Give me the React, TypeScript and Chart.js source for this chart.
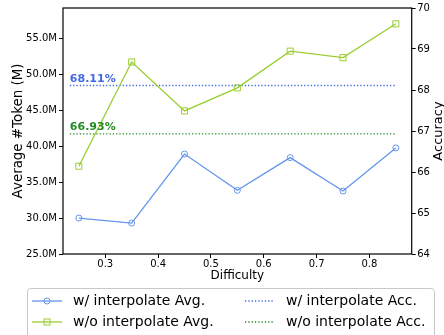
import React, { useEffect, useRef } from 'react';
import { Chart, registerables } from 'chart.js';

Chart.register(...registerables);

const difficulty = [0.25, 0.35, 0.45, 0.55, 0.65, 0.75, 0.85];
const withInterpAvg = [30.0, 29.3, 38.9, 33.85, 38.4, 33.75, 39.75];
const withoutInterpAvg = [37.2, 51.7, 44.9, 48.1, 53.2, 52.3, 57.0];
const withInterpAcc = 68.11;
const withoutInterpAcc = 66.93;
const accSpan = [0.233, 0.849];
const xTicks = [0.3, 0.4, 0.5, 0.6, 0.7, 0.8];
const leftTicks = [25, 30, 35, 40, 45, 50, 55];
const rightTicks = [64, 65, 66, 67, 68, 69, 70];
const seriesLabels = [
  'w/ interpolate Avg.',
  'w/o interpolate Avg.',
  'w/ interpolate Acc.',
  'w/o interpolate Acc.',
];

const BLUE = '#6495ED';
const GREEN = '#9ACD32';
const ACC_BLUE = '#4169E1';
const ACC_GREEN = '#228B22';
const FONT = "'DejaVu Sans', sans-serif";

export default function App() {
  const ref = useRef<HTMLCanvasElement>(null);

  useEffect(() => {
    document.body.style.margin = '0';
    const canvas = ref.current!;

    const drawHandle = (ctx: CanvasRenderingContext2D, kind: string, color: string, x0: number, x1: number, y: number) => {
      ctx.save();
      ctx.strokeStyle = color;
      ctx.lineWidth = 1.3;
      if (kind === 'dot') {
        ctx.setLineDash([1.3, 2]);
      }
      ctx.beginPath();
      ctx.moveTo(x0, y);
      ctx.lineTo(x1, y);
      ctx.stroke();
      ctx.setLineDash([]);
      const cx = (x0 + x1) / 2;
      ctx.lineWidth = 1;
      if (kind === 'circle') {
        ctx.beginPath();
        ctx.arc(cx, y, 3, 0, Math.PI * 2);
        ctx.stroke();
      } else if (kind === 'rect') {
        ctx.strokeRect(cx - 3, y - 3, 6, 6);
      }
      ctx.restore();
    };

    const overlay = {
      id: 'overlay',
      afterDraw(chart: any) {
        const ctx: CanvasRenderingContext2D = chart.ctx;
        const { left, right, top, bottom } = chart.chartArea;
        const xs = chart.scales.x;
        const y1 = chart.scales.y1;
        ctx.save();
        // frame (spines)
        ctx.strokeStyle = '#000';
        ctx.lineWidth = 1.2;
        ctx.strokeRect(left, top, right - left, bottom - top);

        // accuracy labels
        ctx.font = `bold 11px ${FONT}`;
        ctx.textAlign = 'left';
        ctx.textBaseline = 'alphabetic';
        const lx = xs.getPixelForValue(accSpan[0]);
        ctx.fillStyle = ACC_BLUE;
        ctx.fillText(`${withInterpAcc.toFixed(2)}%`, lx, y1.getPixelForValue(withInterpAcc) - 3.5);
        ctx.fillStyle = ACC_GREEN;
        ctx.fillText(`${withoutInterpAcc.toFixed(2)}%`, lx, y1.getPixelForValue(withoutInterpAcc) - 3.5);

        // right axis title (bottom-to-top like matplotlib)
        ctx.save();
        ctx.translate(439, (top + bottom) / 2);
        ctx.rotate(-Math.PI / 2);
        ctx.font = `13px ${FONT}`;
        ctx.fillStyle = '#000';
        ctx.textAlign = 'center';
        ctx.textBaseline = 'middle';
        ctx.fillText('Accuracy', 0, 0);
        ctx.restore();

        // legend
        ctx.fillStyle = 'rgba(255,255,255,0.8)';
        ctx.strokeStyle = '#c8c8c8';
        ctx.lineWidth = 1;
        ctx.beginPath();
        (ctx as any).roundRect(27.5, 288.5, 407, 60, 3);
        ctx.fill();
        ctx.stroke();

        const rows = [301, 322];
        const entries = [
          { kind: 'circle', color: BLUE, col: 0, row: 0, label: seriesLabels[0] },
          { kind: 'rect', color: GREEN, col: 0, row: 1, label: seriesLabels[1] },
          { kind: 'dot', color: ACC_BLUE, col: 1, row: 0, label: seriesLabels[2] },
          { kind: 'dot', color: ACC_GREEN, col: 1, row: 1, label: seriesLabels[3] },
        ];
        const cols = [
          { h0: 32, h1: 62, tx: 73 },
          { h0: 245, h1: 274, tx: 286 },
        ];
        ctx.font = `14px ${FONT}`;
        ctx.textAlign = 'left';
        ctx.textBaseline = 'middle';
        for (const e of entries) {
          const c = cols[e.col];
          const y = rows[e.row];
          drawHandle(ctx, e.kind, e.color, c.h0, c.h1, y);
          ctx.fillStyle = '#000';
          ctx.fillText(e.label, c.tx, y);
        }
        ctx.restore();
      },
    };

    const tickFont = { size: 10, family: FONT };
    const gridCfg = {
      display: true,
      drawOnChartArea: false,
      drawTicks: true,
      tickLength: 4,
      tickColor: '#000',
      tickWidth: 1,
    };

    const chart = new Chart(canvas, {
      type: 'line',
      data: {
        datasets: [
          {
            label: seriesLabels[0],
            data: difficulty.map((x, i) => ({ x, y: withInterpAvg[i] })),
            yAxisID: 'y',
            borderColor: BLUE,
            borderWidth: 1.3,
            pointStyle: 'circle',
            pointRadius: 3,
            pointBorderWidth: 1,
            pointBorderColor: BLUE,
            pointBackgroundColor: 'rgba(0,0,0,0)',
            tension: 0,
          },
          {
            label: seriesLabels[1],
            data: difficulty.map((x, i) => ({ x, y: withoutInterpAvg[i] })),
            yAxisID: 'y',
            borderColor: GREEN,
            borderWidth: 1.3,
            pointStyle: 'rect',
            pointRadius: 4.3,
            pointBorderWidth: 1,
            pointBorderColor: GREEN,
            pointBackgroundColor: 'rgba(0,0,0,0)',
            tension: 0,
          },
          {
            label: seriesLabels[2],
            data: accSpan.map((x) => ({ x, y: withInterpAcc })),
            yAxisID: 'y1',
            borderColor: ACC_BLUE,
            borderWidth: 1.3,
            borderDash: [1.3, 2],
            pointRadius: 0,
          },
          {
            label: seriesLabels[3],
            data: accSpan.map((x) => ({ x, y: withoutInterpAcc })),
            yAxisID: 'y1',
            borderColor: ACC_GREEN,
            borderWidth: 1.3,
            borderDash: [1.3, 2],
            pointRadius: 0,
          },
        ],
      },
      options: {
        animation: false,
        responsive: false,
        layout: { padding: { top: 7, left: 0, right: 0, bottom: 0 } },
        plugins: { legend: { display: false }, tooltip: { enabled: false } },
        scales: {
          x: {
            type: 'linear',
            min: 0.22,
            max: 0.88,
            afterBuildTicks: (s: any) => {
              s.ticks = xTicks.map((v) => ({ value: v }));
            },
            afterFit: (s: any) => {
              s.height = 81;
            },
            ticks: {
              callback: (v: any) => Number(v).toFixed(1),
              font: tickFont,
              color: '#000',
              padding: 0,
              maxRotation: 0,
              autoSkip: false,
            },
            grid: gridCfg,
            border: { display: false },
            title: {
              display: true,
              text: 'Difficulty',
              color: '#000',
              font: { size: 12, family: FONT, lineHeight: 1 },
              padding: { top: 0, bottom: 53 },
            },
          },
          y: {
            type: 'linear',
            position: 'left',
            min: 25,
            max: 59.2,
            afterBuildTicks: (s: any) => {
              s.ticks = leftTicks.map((v) => ({ value: v }));
            },
            afterFit: (s: any) => {
              s.width = 63;
            },
            ticks: {
              callback: (v: any) => `${Number(v).toFixed(1)}M`,
              font: tickFont,
              color: '#000',
              padding: 2,
              autoSkip: false,
            },
            grid: gridCfg,
            border: { display: false },
            title: {
              display: true,
              text: 'Average #Token (M)',
              color: '#000',
              font: { size: 13.4, family: FONT, lineHeight: 1 },
              padding: { top: 11.6, bottom: 0 },
            },
          },
          y1: {
            type: 'linear',
            position: 'right',
            min: 64,
            max: 70,
            afterBuildTicks: (s: any) => {
              s.ticks = rightTicks.map((v) => ({ value: v }));
            },
            afterFit: (s: any) => {
              s.width = 32.3;
            },
            ticks: {
              callback: (v: any) => String(v),
              font: tickFont,
              color: '#000',
              padding: 1.5,
              autoSkip: false,
            },
            grid: gridCfg,
            border: { display: false },
            title: { display: false },
          },
        },
      },
      plugins: [overlay],
    } as any);

    return () => chart.destroy();
  }, []);

  return (
    <canvas
      ref={ref}
      width={444}
      height={335}
      style={{ display: 'block', width: '444px', height: '335px' }}
    />
  );
}
